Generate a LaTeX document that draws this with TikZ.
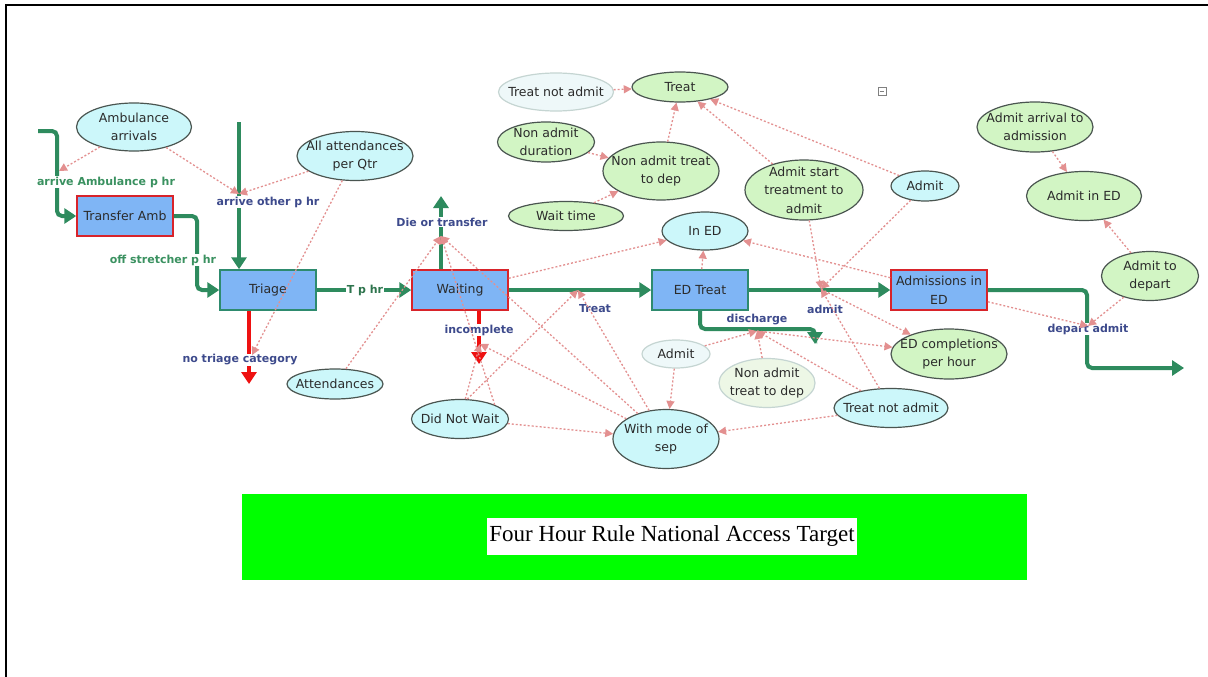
\documentclass[tikz,border=0pt]{standalone}
\usepackage{fontspec}
\setmainfont{DejaVu Sans}
\newfontfamily\titlefont{Liberation Serif}
\usetikzlibrary{arrows.meta,shapes.geometric}
\definecolor{cyanfill}{HTML}{CCF7FA}
\definecolor{greenfill}{HTML}{D2F5C4}
\definecolor{palecyan}{HTML}{EEF8F9}
\definecolor{palegreen}{HTML}{EDF7E6}
\definecolor{paleline}{HTML}{C5D5D2}
\definecolor{ellline}{HTML}{4A5550}
\definecolor{boxfill}{HTML}{7FB5F5}
\definecolor{redline}{HTML}{D8232A}
\definecolor{tealline}{HTML}{2E8B6E}
\definecolor{flowgreen}{HTML}{2E8B5E}
\definecolor{outred}{HTML}{EE1111}
\definecolor{pinkline}{HTML}{E39090}
\definecolor{labblue}{HTML}{3D4A8C}
\definecolor{labgreen}{HTML}{3A9160}
\definecolor{nodetext}{HTML}{2B2B2B}
\definecolor{bandgreen}{HTML}{00FF00}
\tikzset{
  ntext/.style={font=\fontsize{12.5}{18.5}\selectfont, text=nodetext, align=center, inner sep=0pt},
  ell/.style={ellipse, draw=ellline, line width=1.2pt, inner sep=0pt},
  cy/.style={ell, fill=cyanfill},
  gr/.style={ell, fill=greenfill},
  pcy/.style={ell, fill=palecyan, draw=paleline},
  pgr/.style={ell, fill=palegreen, draw=paleline},
  boxr/.style={rectangle, fill=boxfill, draw=redline, line width=1.5pt, minimum width=96, minimum height=40,
    font=\fontsize{12.5}{18.5}\selectfont, text=nodetext, align=center, inner sep=1pt},
  boxg/.style={boxr, draw=tealline},
  flow/.style={draw=flowgreen, line width=4pt, rounded corners=5pt, -{Triangle[width=15pt,length=12pt]}},
  outflow/.style={draw=outred, line width=4pt, -{Triangle[width=15pt,length=12pt]}},
  dep/.style={draw=pinkline, line width=1.3pt, dash pattern=on 2pt off 2pt, -{Triangle[width=8pt,length=8pt]}},
  vlab/.style={font=\bfseries\fontsize{11}{12}\selectfont, text=labblue, fill=white, inner sep=1pt},
  vlabg/.style={vlab, text=labgreen},
}
\begin{document}
\begin{tikzpicture}[x=1pt,y=-1pt]
\useasboundingbox (0,0) rectangle (1208,677);
\fill[white] (0,0) rectangle (1208,677);
% frame
\draw[line width=2pt] (6,677) -- (6,5) -- (1208,5);

% ellipses
\node[cy, minimum width=115, minimum height=48, label={[ntext]center:{Ambulance\\arrivals}}] (ambarr) at (134,127) {};
\node[cy, minimum width=116, minimum height=49, label={[ntext]center:{All attendances\\per Qtr}}] (allatt) at (355,156) {};
\node[cy, minimum width=96, minimum height=30, label={[ntext]center:{Attendances}}] (attend) at (335,384) {};
\node[pcy, minimum width=115, minimum height=38, label={[ntext]center:{Treat not admit}}] (tna1) at (556,92) {};
\node[gr, minimum width=96, minimum height=30, label={[ntext]center:{Treat}}] (treat) at (680,87) {};
\node[gr, minimum width=97, minimum height=40, label={[ntext]center:{Non admit\\duration}}] (nad) at (546,142) {};
\node[gr, minimum width=116, minimum height=58, label={[ntext]center:{Non admit treat\\to dep}}] (natd) at (661,171) {};
\node[gr, minimum width=115, minimum height=29, label={[ntext]center:{Wait time}}] (waitt) at (566,216) {};
\node[cy, minimum width=86, minimum height=38, label={[ntext]center:{In ED}}] (ined) at (705,231) {};
\node[gr, minimum width=118, minimum height=60, label={[ntext]center:{Admit start\\treatment to\\admit}}] (asta) at (804,190) {};
\node[cy, minimum width=68, minimum height=30, label={[ntext]center:{Admit}}] (admita) at (925,186) {};
\node[gr, minimum width=116, minimum height=50, label={[ntext]center:{Admit arrival to\\admission}}] (aaa) at (1035,127) {};
\node[gr, minimum width=115, minimum height=49, label={[ntext]center:{Admit in ED}}] (aied) at (1084,196) {};
\node[gr, minimum width=97, minimum height=49, label={[ntext]center:{Admit to\\depart}}] (atd) at (1150,276) {};
\node[gr, minimum width=116, minimum height=50, label={[ntext]center:{ED completions\\per hour}}] (edc) at (949,354) {};
\node[pcy, minimum width=68, minimum height=28, label={[ntext]center:{Admit}}] (admitb) at (676,354) {};
\node[pgr, minimum width=96, minimum height=49, label={[ntext]center:{Non admit\\treat to dep}}] (natdb) at (767,383) {};
\node[cy, minimum width=114, minimum height=39, label={[ntext]center:{Treat not admit}}] (tnab) at (891,408) {};
\node[cy, minimum width=106, minimum height=59, label={[ntext]center:{With mode of\\sep}}] (wmos) at (666,439) {};
\node[cy, minimum width=97, minimum height=39, label={[ntext]center:{Did Not Wait}}] (dnw) at (460,419) {};

% small icon
\node[draw=gray, line width=0.6pt, minimum size=8, inner sep=0pt] (icon) at (882,91) {};
\draw[gray, line width=0.6pt] ([xshift=2pt]icon.west) -- ([xshift=-2pt]icon.east);

% stocks
\node[boxr] (tamb) at (125,216) {Transfer Amb};
\node[boxg] (triage) at (268,290) {Triage};
\node[boxr] (waiting) at (460,290) {Waiting};
\node[boxg] (edtreat) at (700,290) {ED Treat};
\node[boxr] (adm) at (939,290) {Admissions in\\ED};

% coordinates
\coordinate (srcAmb) at (38,131);
\coordinate (srcOther) at (239,122);
\coordinate (sinkNoTri) at (249,384);
\coordinate (sinkDie) at (441,196);
\coordinate (sinkInc) at (479,364);
\coordinate (sinkDis) at (815,344);
\coordinate (sinkDep) at (1184,368);
\coordinate (vAmb) at (59,171);
\coordinate (vOther) at (239,194);
\coordinate (vNoTri) at (252,355);
\coordinate (vDie) at (441,236);
\coordinate (vInc) at (480,344);
\coordinate (vTreat) at (578,290);
\coordinate (vDis) at (757,331);
\coordinate (vAdmit) at (821,289);
\coordinate (vDep) at (1088,326);

% flows
\draw[flow] (srcAmb) -- (57,131) -- (57,216) -- (tamb.west);
\draw[flow] (tamb.east) -- (197,216) -- (197,290) -- (triage.west);
\draw[flow] (srcOther) -- (srcOther |- triage.north);
\draw[flow] (triage.east) -- (waiting.west);
\draw[outflow] (triage.south -| sinkNoTri) -- (sinkNoTri);
\draw[flow] (waiting.north -| sinkDie) -- (sinkDie);
\draw[outflow] (waiting.south -| sinkInc) -- (sinkInc);
\draw[flow] (waiting.east) -- (edtreat.west);
\draw[flow] (edtreat.south) -- (700,329) -- (815,329) -- (sinkDis);
\draw[flow] (edtreat.east) -- (adm.west);
\draw[flow] (adm.east) -- (1087,290) -- (1087,368) -- (sinkDep);

% flow labels
\node[vlabg] (lAmb) at (106,182) {arrive Ambulance p hr};
\node[vlab] (lOther) at (268,202) {arrive other p hr};
\node[vlabg] (lOff) at (163,260) {off stretcher p hr};
\node[vlabg, text=labgreen!80!black] (lT) at (365,290) {T p hr};
\node[vlab] (lNoTri) at (240,360) {no triage category};
\node[vlab] (lDie) at (442,222) {Die or transfer};
\node[vlab] (lInc) at (479,330) {incomplete};
\node[vlab] (lTreat) at (595,309) {Treat};
\node[vlab] (lDis) at (757,320) {discharge};
\node[vlab] (lAdmit) at (825,309) {admit};
\node[vlab] (lDep) at (1088,329) {depart admit};

% dependency links
\draw[dep] (ambarr) -- (vAmb);
\draw[dep] (ambarr) -- (vOther);
\draw[dep] (allatt) -- (vOther);
\draw[dep] (allatt) -- (vNoTri);
\draw[dep] (attend) -- (vDie);
\draw[dep] (dnw.north east) -- (vDie);
\draw[dep] (wmos) -- (vDie);
\draw[dep] (waiting) -- (ined);
\draw[dep] (edtreat) -- (ined);
\draw[dep] (adm) -- (ined);
\draw[dep] (dnw) -- (vInc);
\draw[dep] (wmos) -- (vInc);
\draw[dep] (dnw.70) -- (vTreat);
\draw[dep] (wmos) -- (vTreat);
\draw[dep] (tna1) -- (treat);
\draw[dep] (natd) -- (treat);
\draw[dep] (asta) -- (treat);
\draw[dep] (admita) -- (treat);
\draw[dep] (nad) -- (natd);
\draw[dep] (waitt) -- (natd);
\draw[dep] (asta) -- (vAdmit);
\draw[dep] (admita) -- (vAdmit);
\draw[dep] (tnab) -- (vAdmit);
\draw[dep] (vAdmit) -- (edc);
\draw[dep] (vDis) -- (edc);
\draw[dep] (admitb) -- (vDis);
\draw[dep] (natdb) -- (vDis);
\draw[dep] (tnab) -- (vDis);
\draw[dep] (dnw) -- (wmos);
\draw[dep] (admitb) -- (wmos);
\draw[dep] (tnab) -- (wmos);
\draw[dep] (aaa) -- (aied);
\draw[dep] (atd) -- (aied);
\draw[dep] (atd) -- (vDep);
\draw[dep] (adm) -- (vDep);

% title band
\node[fill=bandgreen, minimum width=785, minimum height=86, inner sep=0pt] (band) at (634.5,537) {};
\node[fill=white, minimum width=370, minimum height=37, inner sep=0pt, font=\titlefont\fontsize{23}{26}\selectfont] (title) at (672,536) {Four Hour Rule National Access Target};
\end{tikzpicture}
\end{document}
